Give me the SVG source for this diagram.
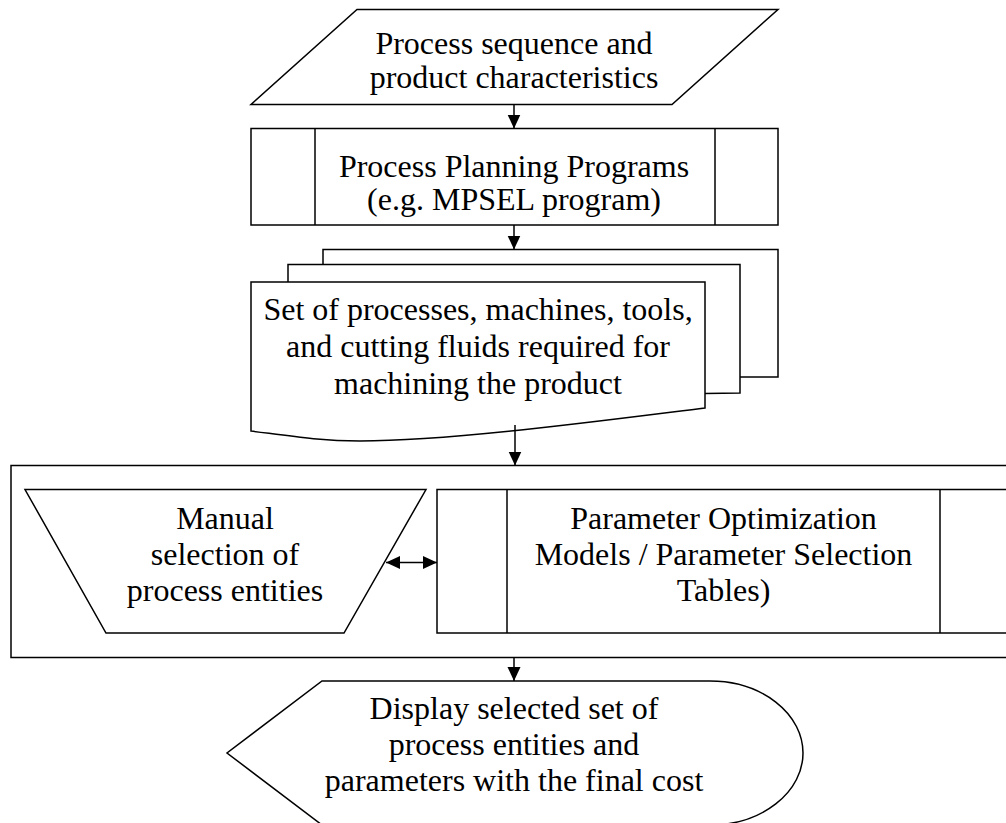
<svg xmlns="http://www.w3.org/2000/svg" width="1006" height="823" viewBox="0 0 1006 823">
<defs>
<style>
.s{fill:#fff;stroke:#000;stroke-width:1.5;stroke-linejoin:miter}
.l{fill:none;stroke:#000;stroke-width:1.5}
.t{font-family:"Liberation Serif","Times New Roman",serif;font-size:32px;fill:#000;text-anchor:middle}
.c{fill:none;stroke:#000;stroke-width:1.5}
</style>
<marker id="ah" markerUnits="userSpaceOnUse" markerWidth="15" markerHeight="14" refX="14" refY="6.5" orient="auto-start-reverse">
<path d="M0,0 L14,6.5 L0,13 Z" fill="#000"/>
</marker>
</defs>
<rect width="1006" height="823" fill="#fff"/>

<g id="n1-input">
<polygon class="s" points="357,9.5 778,9.5 672,104.5 251,104.5"/>
<text class="t" x="514" y="54">Process sequence and</text>
<text class="t" x="514" y="88">product characteristics</text>
</g>

<g id="n2-planning">
<rect class="s" x="251" y="128.5" width="527" height="96.5"/>
<line class="l" x1="315" y1="128.5" x2="315" y2="225"/>
<line class="l" x1="715" y1="128.5" x2="715" y2="225"/>
<text class="t" x="514" y="177">Process Planning Programs</text>
<text class="t" x="514" y="210">(e.g. MPSEL program)</text>
</g>

<g id="n3-documents">
<rect class="s" x="323" y="249.5" width="455" height="127.5"/>
<path class="s" d="M288,264.5 L740,264.5 L740,393 L705,393.5 L288,393.5 Z"/>
<path class="s" d="M251,282 L705,282 L705,408 C600,421 450,441 360,441 C320,441 290,436 251,431 Z"/>
<text class="t" x="478" y="320">Set of processes, machines, tools,</text>
<text class="t" x="478" y="357">and cutting fluids required for</text>
<text class="t" x="478" y="394">machining the product</text>
</g>

<g id="n4-container">
<rect class="s" x="11" y="465.5" width="1010" height="192"/>
</g>

<g id="n5-manual">
<polygon class="s" points="25,489.5 426,489.5 344,633 106,633"/>
<text class="t" x="225" y="529">Manual</text>
<text class="t" x="225" y="565">selection of</text>
<text class="t" x="225" y="601">process entities</text>
</g>

<g id="n6-parameters">
<rect class="s" x="437" y="489.5" width="580" height="143.5"/>
<line class="l" x1="507" y1="489.5" x2="507" y2="633"/>
<line class="l" x1="940" y1="489.5" x2="940" y2="633"/>
<text class="t" x="723.5" y="529">Parameter Optimization</text>
<text class="t" x="723.5" y="565">Models / Parameter Selection</text>
<text class="t" x="723.5" y="601">Tables)</text>
</g>

<g id="n7-display">
<path class="s" d="M322,681 L710,681 A93,72 0 0 1 710,825 L322,825 L227,753 Z"/>
<text class="t" x="514" y="719">Display selected set of</text>
<text class="t" x="514" y="755">process entities and</text>
<text class="t" x="514" y="791">parameters with the final cost</text>
</g>

<g id="connectors">
<path class="c" d="M514,104.5 L514,128.5" marker-end="url(#ah)"/>
<path class="c" d="M514,225 L514,249.5" marker-end="url(#ah)"/>
<path class="c" d="M515,425 L515,465.5" marker-end="url(#ah)"/>
<path class="c" d="M514,657.5 L514,681" marker-end="url(#ah)"/>
<path class="c" d="M386,562.5 L437,562.5" marker-start="url(#ah)" marker-end="url(#ah)"/>
</g>
</svg>
